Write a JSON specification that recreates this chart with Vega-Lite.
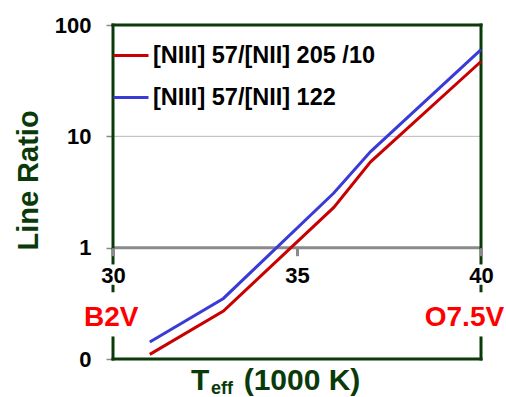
{
  "$schema": "https://vega.github.io/schema/vega-lite/v6.json",
  "width": 368,
  "height": 334,
  "autosize": {"type": "none"},
  "padding": {"left": 113, "top": 25, "right": 25, "bottom": 38},
  "background": "white",
  "config": {
    "view": {"stroke": null},
    "font": "Liberation Sans",
    "axis": {"labelFont": "Liberation Sans", "titleFont": "Liberation Sans"},
    "legend": {"labelFont": "Liberation Sans"}
  },
  "layer": [
    {
      "data": {"values": [{"v": 10}]},
      "mark": {"type": "rule", "color": "#b8b8b8", "strokeWidth": 1},
      "encoding": {"y": {"field": "v", "type": "quantitative"}}
    },
    {
      "data": {"values": [{"v": 1}]},
      "mark": {"type": "rule", "color": "#8a8a8a", "strokeWidth": 3},
      "encoding": {"y": {"field": "v", "type": "quantitative"}}
    },
    {
      "data": {"values": [
        {"x1": 30, "x2": 40, "y": 100},
        {"x1": 30, "x2": 40, "y": 0.1}
      ]},
      "mark": {"type": "rule", "color": "#0a3a0a", "strokeWidth": 3, "strokeCap": "square"},
      "encoding": {
        "x": {"field": "x1", "type": "quantitative"},
        "x2": {"field": "x2"},
        "y": {"field": "y", "type": "quantitative"}
      }
    },
    {
      "data": {"values": [
        {"x": 30, "y1": 0.729, "y2": 100},
        {"x": 30, "y1": 0.41, "y2": 0.45},
        {"x": 30, "y1": 0.1, "y2": 0.1545},
        {"x": 40, "y1": 0.729, "y2": 100},
        {"x": 40, "y1": 0.41, "y2": 0.45},
        {"x": 40, "y1": 0.1, "y2": 0.1545}
      ]},
      "mark": {"type": "rule", "color": "#0a3a0a", "strokeWidth": 3, "strokeCap": "square"},
      "encoding": {
        "x": {"field": "x", "type": "quantitative"},
        "y": {"field": "y1", "type": "quantitative"},
        "y2": {"field": "y2"}
      }
    },
    {
      "data": {
        "values": [
          {"teff": 31, "ratio": 0.11, "series": "[NIII] 57/[NII] 205 /10"},
          {"teff": 33, "ratio": 0.27, "series": "[NIII] 57/[NII] 205 /10"},
          {"teff": 36, "ratio": 2.3, "series": "[NIII] 57/[NII] 205 /10"},
          {"teff": 37, "ratio": 5.9, "series": "[NIII] 57/[NII] 205 /10"},
          {"teff": 40, "ratio": 47, "series": "[NIII] 57/[NII] 205 /10"},
          {"teff": 31, "ratio": 0.142, "series": "[NIII] 57/[NII] 122"},
          {"teff": 33, "ratio": 0.35, "series": "[NIII] 57/[NII] 122"},
          {"teff": 36, "ratio": 3.1, "series": "[NIII] 57/[NII] 122"},
          {"teff": 37, "ratio": 7.3, "series": "[NIII] 57/[NII] 122"},
          {"teff": 40, "ratio": 60, "series": "[NIII] 57/[NII] 122"}
        ]
      },
      "mark": {"type": "line", "strokeWidth": 3},
      "encoding": {
        "x": {
          "field": "teff", "type": "quantitative",
          "scale": {"domain": [30, 40], "nice": false, "zero": false},
          "axis": {
            "title": null, "orient": "bottom", "offset": -111.3, "zindex": 1,
            "values": [30, 35, 40], "grid": false, "domain": false,
            "tickColor": "#8a8a8a", "tickWidth": 3, "tickSize": 8,
            "labelFontSize": 22, "labelFontWeight": "bold", "labelColor": "black",
            "labelPadding": 10, "labelFlush": false
          }
        },
        "y": {
          "field": "ratio", "type": "quantitative",
          "scale": {"type": "log", "domain": [0.1, 100], "nice": false},
          "axis": {
            "title": "Line Ratio", "values": [0.1, 1, 10, 100], "grid": false,
            "domain": false,
            "labelExpr": "datum.value < 0.5 ? '0' : format(datum.value, 'd')",
            "tickColor": "#8a8a8a", "tickSize": 7, "tickWidth": 1.5,
            "labelFontSize": 22, "labelFontWeight": "bold", "labelColor": "black",
            "labelPadding": 15,
            "titleFontSize": 29, "titleFontWeight": "bold", "titleColor": "#0a3a0a",
            "titleX": -76, "titleY": 155, "titleBaseline": "alphabetic", "titleAlign": "center"
          }
        },
        "color": {
          "field": "series", "type": "nominal",
          "scale": {
            "domain": ["[NIII] 57/[NII] 205 /10", "[NIII] 57/[NII] 122"],
            "range": ["#c80000", "#3a3ad6"]
          },
          "legend": {
            "title": null, "orient": "none", "legendX": -1, "legendY": 11.5,
            "symbolType": "stroke", "symbolSize": 1225, "symbolStrokeWidth": 3,
            "labelFontSize": 23.5, "labelFontWeight": "bold", "labelColor": "black",
            "labelOffset": 3, "rowPadding": 11, "padding": 0, "labelLimit": 400
          }
        }
      }
    },
    {
      "data": {"values": [{"t": "B2V", "x": 29.95, "y": 0.234}, {"t": "O7.5V", "x": 39.55, "y": 0.234}]},
      "mark": {"type": "text", "fontSize": 28, "fontWeight": "bold", "color": "#ff0000", "align": "center", "baseline": "middle"},
      "encoding": {
        "x": {"field": "x", "type": "quantitative"},
        "y": {"field": "y", "type": "quantitative"},
        "text": {"field": "t"}
      }
    },
    {
      "data": {"values": [{"t": "T", "x": 32.12}, {"t": "(1000 K)", "x": 33.55}]},
      "mark": {"type": "text", "fontSize": 30, "fontWeight": "bold", "color": "#0a3a0a", "align": "left", "baseline": "alphabetic", "dy": 31},
      "encoding": {
        "x": {"field": "x", "type": "quantitative"},
        "y": {"datum": 0.1},
        "text": {"field": "t"}
      }
    },
    {
      "data": {"values": [{"t": "eff", "x": 32.66}]},
      "mark": {"type": "text", "fontSize": 18, "fontWeight": "bold", "color": "#0a3a0a", "align": "left", "baseline": "alphabetic", "dy": 35},
      "encoding": {
        "x": {"field": "x", "type": "quantitative"},
        "y": {"datum": 0.1},
        "text": {"field": "t"}
      }
    }
  ]
}
